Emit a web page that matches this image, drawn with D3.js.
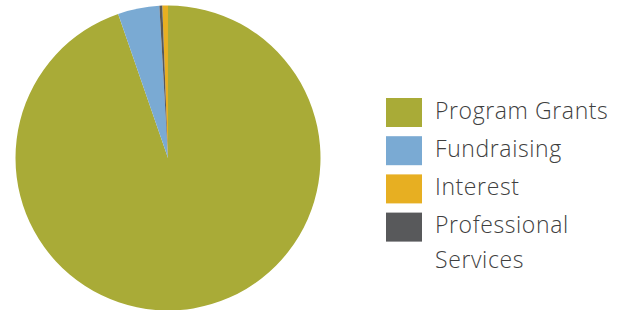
<!DOCTYPE html>
<html>
<head>
<meta charset="utf-8">
<script src="https://cdn.jsdelivr.net/npm/d3@7"></script>
<style>
  html, body { margin: 0; padding: 0; background: #fff; }
  svg { display: block; }
</style>
</head>
<body>
<svg id="chart" width="626" height="310"></svg>
<script>
// Data (legend order)
const categories = ["Program Grants", "Fundraising", "Interest", "Professional Services"];
const values = [94.7, 4.4, 0.6, 0.3];
const colors = ["#A9AB37", "#7AAAD3", "#E7AF22", "#58595B"];
// Order in which slices appear clockwise from 12 o'clock
const sliceOrder = ["Program Grants", "Fundraising", "Professional Services", "Interest"];
const legendLines = [["Program Grants"], ["Fundraising"], ["Interest"], ["Professional", "Services"]];

const data = categories.map((c, i) => ({ name: c, value: values[i], color: colors[i] }));

const svg = d3.select("#chart");
const cx = 168, cy = 158, r = 152.5;

const pie = d3.pie()
  .value(d => d.value)
  .sort((a, b) => sliceOrder.indexOf(a.name) - sliceOrder.indexOf(b.name));
const arc = d3.arc().innerRadius(0).outerRadius(r);

svg.append("g")
  .attr("transform", `translate(${cx},${cy})`)
  .selectAll("path")
  .data(pie(data))
  .join("path")
  .attr("d", arc)
  .attr("fill", d => d.data.color);

// Legend
const legend = svg.append("g").attr("transform", "translate(386,98)");
const rowH = 38.2;
const items = legend.selectAll("g")
  .data(data)
  .join("g")
  .attr("transform", (d, i) => `translate(0,${i * rowH})`);

items.append("rect")
  .attr("width", 36)
  .attr("height", 29)
  .attr("fill", d => d.color);

items.each(function(d, i) {
  const g = d3.select(this);
  legendLines[i].forEach((line, j) => {
    g.append("text")
      .attr("x", 49)
      .attr("y", 20.5 + j * 35)
      .attr("font-family", "'Open Sans', Lato, sans-serif")
      .attr("font-weight", 300)
      .attr("font-size", 23)
      .attr("letter-spacing", 0.6)
      .attr("fill", "#3f3f3f")
      .text(line);
  });
});
</script>
</body>
</html>
